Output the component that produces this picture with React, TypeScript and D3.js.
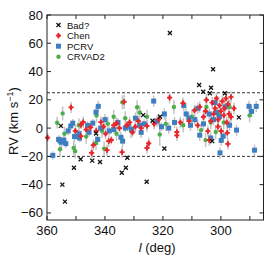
import { useEffect, useRef } from "react";
import * as d3 from "d3";

const W = 274;
const H = 258;
const MARGIN = { top: 15, right: 10.5, bottom: 38, left: 47 };

// [l (deg), RV (km/s), error]
const chen: [number, number, number][] = [
  [359.8, -6.8, 3], [351.7, 14.7, 4], [350.2, -2, 4], [348.3, 2.3, 3], [347.5, 4.2, 4],
  [348.3, -5.7, 4], [346.5, -1, 3], [345, 0.5, 3], [344.6, -17.5, 4], [344.0, -12, 4],
  [343.0, -2, 3], [341.4, 4.2, 4], [340.5, 1, 3], [339.8, -4, 4], [338.7, -9.2, 4],
  [337.8, -8.5, 3], [339.3, -15.6, 4], [337, 2, 3], [336, 3.5, 4], [335, 0, 3],
  [334.1, -17, 4], [333.4, 18.6, 5], [332.5, 2, 3], [331.5, 4, 4], [330.5, -3, 3],
  [329.5, 1, 4], [328.5, 5, 4], [327.5, 0, 3], [325.5, -14, 4], [324.9, -10.8, 4],
  [325.5, 1.5, 4], [323, 3, 4], [321.5, 6, 4], [317.7, 21.5, 4], [315.2, -2.8, 4],
  [315.2, -5.2, 4], [314, 4, 4], [313.1, 17.7, 4], [311, 5, 4], [309.1, 12.5, 4],
  [308, 2, 4], [307.3, 15, 4], [306, 8, 4], [305.3, 12, 4], [304.5, -2.1, 4],
  [304, -8.5, 4], [303.5, 5, 4], [303, 18, 4], [302.5, 10, 4], [302, 14, 4],
  [301.5, 21, 4], [301, 6, 4], [300.5, 16, 4], [300, 12, 4], [299.9, -2.1, 4],
  [299.5, 19, 4], [299, 9, 4], [298.8, 14, 4], [298.3, 21, 4], [298, 4, 4],
  [297.8, -3.3, 4], [297.6, -11.1, 4], [297.5, 17, 4], [297.2, 10, 4], [296.5, 8, 4],
  [296.5, 22, 4], [295.5, 14, 4], [301, 1, 4], [305, 20, 4],
];

const pcrv: [number, number, number][] = [
  [358, -19.3, 3], [356, -8, 3], [355.5, -9, 3], [355, -10, 4], [354.2, -8.5, 3],
  [353.5, -11, 3], [352.7, -2, 3], [351.1, 3.5, 3], [351.8, 1.5, 3], [350.5, -6, 4],
  [349, -4, 4], [348.8, -7, 3], [346, 1.9, 3], [345.5, -3, 3], [344.2, 3.5, 3],
  [343.1, 11.3, 4], [342.3, 15.4, 4], [342.5, -8, 4], [341.5, 0, 3], [340, 6, 4],
  [338.5, -2, 3], [337, -1, 3], [335.5, 4, 3], [333.9, -9.2, 4], [334.5, -6.5, 4],
  [333, 0, 3], [332, 1, 3], [330.8, -1, 3], [329.5, 7, 4], [328, 2, 3],
  [327.5, -3, 4], [326.5, 3, 3], [323.2, 19.1, 4], [322, 5, 4], [320.5, 1, 3],
  [319.5, 10, 4], [318, 0, 4], [316, 4, 4], [312, 10, 4], [311, 7, 4],
  [312.8, 16, 4], [310.5, 2, 4], [309, 6, 4], [308, 14, 4], [307.3, -5, 4],
  [306, 3, 4], [304, 10, 4], [303.5, -7, 4], [302.5, 6, 4], [301.5, 11, 4],
  [300.5, 8, 4], [299.2, -5.7, 4], [299.9, -8.7, 4], [300.3, -17.5, 4], [298.5, 15, 4],
  [297, 2, 4], [294.6, -1.4, 4], [290.3, 15.4, 4], [287.8, 15.4, 4], [289.4, 11.8, 4],
  [288.4, -15.6, 4], [302, 18, 4],
];

const crvad2: [number, number, number][] = [
  [356.5, 3.8, 4], [354.6, 10.4, 5], [355.5, -15, 5], [354, -4, 5], [350.3, -16.3, 5],
  [350.8, -14, 5], [349, 2, 5], [346.5, -6, 5], [343.1, -10.5, 5], [342.9, 9, 5],
  [341, -2, 5], [340.3, -14.5, 5], [339, 3, 5], [336, -4, 5], [334, 18.2, 5],
  [333, 7, 5], [331, -2, 5], [328.9, 14.7, 5], [328, 11, 5], [325.5, 8, 5],
  [321.1, -4.5, 8], [319, 3, 5], [316.2, 14.9, 5], [313, 2, 5], [310, 8, 5],
  [306.8, -1.4, 5], [305.3, -8.5, 5], [305, 14.9, 5], [303.5, 4, 5], [301.8, -2.8, 5],
  [301, 10, 5], [299, 4, 5], [297, 15, 5], [290.1, 9, 5], [337, 8, 5],
];

const bad: [number, number][] = [
  [355.2, 1.6], [354.7, -40], [353.8, -52], [350.7, -28], [348.4, -22], [344.4, -23],
  [341.7, -24], [343.1, -3.8], [334.2, -31.6], [332.8, -28], [332.3, -21], [325.6, -38],
  [319.5, -14.4], [303, -9.2], [317.6, 67.3], [302.7, 41.6], [307.5, 30.5], [306.1, 25.7],
  [303.4, 28.5], [303.8, 24.6], [298.6, 24.6], [293.8, 7.6], [326.8, 9.2], [323.6, 5.2],
  [321, 8],
];

const xTicks = [360, 340, 320, 300];
const xMinorTicks = [350, 330, 310, 290];
const yTicks = [80, 60, 40, 20, 0, -20, -40, -60];
const refLines = [25, -20];
const legendLabels = ["Bad?", "Chen", "PCRV", "CRVAD2"];

const RED = "#e8262b";
const BLUE = "#3d7fc1";
const GREEN = "#4daf4a";
const ERR = "#c4c4c4";

const App = () => {
  const ref = useRef<SVGSVGElement>(null);

  useEffect(() => {
    const svg = d3.select(ref.current);
    svg.selectAll("*").remove();
    const bw = W - MARGIN.left - MARGIN.right;
    const bh = H - MARGIN.top - MARGIN.bottom;
    const x = d3.scaleLinear().domain([360, 285.3]).range([0, bw]);
    const y = d3.scaleLinear().domain([-65, 80]).range([bh, 0]);

    const g = svg.append("g").attr("transform", `translate(${MARGIN.left},${MARGIN.top})`);

    // dashed reference lines
    g.selectAll(".ref")
      .data(refLines)
      .join("line")
      .attr("x1", 0).attr("x2", bw)
      .attr("y1", (d) => y(d)).attr("y2", (d) => y(d))
      .attr("stroke", "#333").attr("stroke-width", 1).attr("stroke-dasharray", "3,2");

    const series: { data: [number, number, number][]; kind: string }[] = [
      { data: crvad2, kind: "green" },
      { data: pcrv, kind: "blue" },
      { data: chen, kind: "red" },
    ];

    // error bars
    series.forEach((s) => {
      g.append("g")
        .selectAll("line")
        .data(s.data)
        .join("line")
        .attr("x1", (d) => x(d[0])).attr("x2", (d) => x(d[0]))
        .attr("y1", (d) => y(d[1] - d[2])).attr("y2", (d) => y(d[1] + d[2]))
        .attr("stroke", ERR).attr("stroke-width", 1.5);
    });

    const drawMarker = (sel: any, kind: string) => {
      if (kind === "red") {
        sel.append("path").attr("d", d3.symbol(d3.symbolCross, 15)()).attr("fill", RED);
        sel.append("path").attr("d", d3.symbol(d3.symbolDiamond, 11)()).attr("fill", RED);
      } else if (kind === "blue") {
        sel.append("rect").attr("x", -2.5).attr("y", -2.5).attr("width", 5).attr("height", 5).attr("fill", BLUE);
      } else if (kind === "green") {
        sel.append("circle").attr("r", 2.2).attr("fill", GREEN);
      } else {
        sel.append("path").attr("d", "M-2,-2L2,2M-2,2L2,-2").attr("stroke", "#111").attr("stroke-width", 1.3);
      }
    };

    series.forEach((s) => {
      const pts = g.append("g")
        .selectAll("g")
        .data(s.data)
        .join("g")
        .attr("transform", (d) => `translate(${x(d[0])},${y(d[1])})`);
      drawMarker(pts, s.kind);
    });

    const badPts = g.append("g")
      .selectAll("g")
      .data(bad)
      .join("g")
      .attr("transform", (d) => `translate(${x(d[0])},${y(d[1])})`);
    drawMarker(badPts, "bad");

    // frame
    g.append("rect").attr("width", bw).attr("height", bh)
      .attr("fill", "none").attr("stroke", "#222").attr("stroke-width", 1);

    // ticks (inward)
    const tl = 4;
    [...xTicks, ...xMinorTicks].forEach((t) => {
      g.append("line").attr("x1", x(t)).attr("x2", x(t)).attr("y1", bh).attr("y2", bh - tl).attr("stroke", "#222");
      g.append("line").attr("x1", x(t)).attr("x2", x(t)).attr("y1", 0).attr("y2", tl).attr("stroke", "#222");
    });
    yTicks.forEach((t) => {
      g.append("line").attr("x1", 0).attr("x2", tl).attr("y1", y(t)).attr("y2", y(t)).attr("stroke", "#222");
      g.append("line").attr("x1", bw).attr("x2", bw - tl).attr("y1", y(t)).attr("y2", y(t)).attr("stroke", "#222");
    });

    const font = "Liberation Sans, Arial, sans-serif";
    g.selectAll(".xl").data(xTicks).join("text")
      .attr("x", (d) => x(d)).attr("y", bh + 15)
      .attr("text-anchor", "middle").attr("font-family", font).attr("font-size", 13)
      .attr("fill", "#111").text((d) => d);
    g.selectAll(".yl").data(yTicks).join("text")
      .attr("x", -4).attr("y", (d) => y(d) + 4.5)
      .attr("text-anchor", "end").attr("font-family", font).attr("font-size", 13)
      .attr("fill", "#111").text((d) => (d < 0 ? "\u2212" + Math.abs(d) : d));

    // axis titles
    const xt = svg.append("text")
      .attr("x", MARGIN.left + x(322)).attr("y", H - 6)
      .attr("text-anchor", "middle").attr("font-family", font).attr("font-size", 13).attr("fill", "#111");
    xt.append("tspan").attr("font-style", "italic").text("l");
    xt.append("tspan").text("  (deg)");

    const yt = svg.append("text")
      .attr("transform", `translate(18,${MARGIN.top + y(5)}) rotate(-90)`)
      .attr("text-anchor", "middle").attr("font-family", font).attr("font-size", 13).attr("fill", "#111");
    yt.append("tspan").text("RV (km s");
    yt.append("tspan").attr("font-size", 9).attr("dy", -5).text("\u22121");
    yt.append("tspan").attr("dy", 5).text(")");

    // legend
    const leg = svg.append("g").attr("transform", "translate(58.5,25)");
    legendLabels.forEach((lab, i) => {
      const row = leg.append("g").attr("transform", `translate(0,${i * 10.6})`);
      drawMarker(row, ["bad", "red", "blue", "green"][i]);
      row.append("text").attr("x", 8.5).attr("y", 3.5)
        .attr("font-family", font).attr("font-size", 9.5).attr("fill", "#111").text(lab);
    });
  }, []);

  return (
    <div style={{ position: "absolute", left: 0, top: 0 }}>
      <svg ref={ref} width={W} height={H} style={{ display: "block", background: "white" }} />
    </div>
  );
};

export default App;
